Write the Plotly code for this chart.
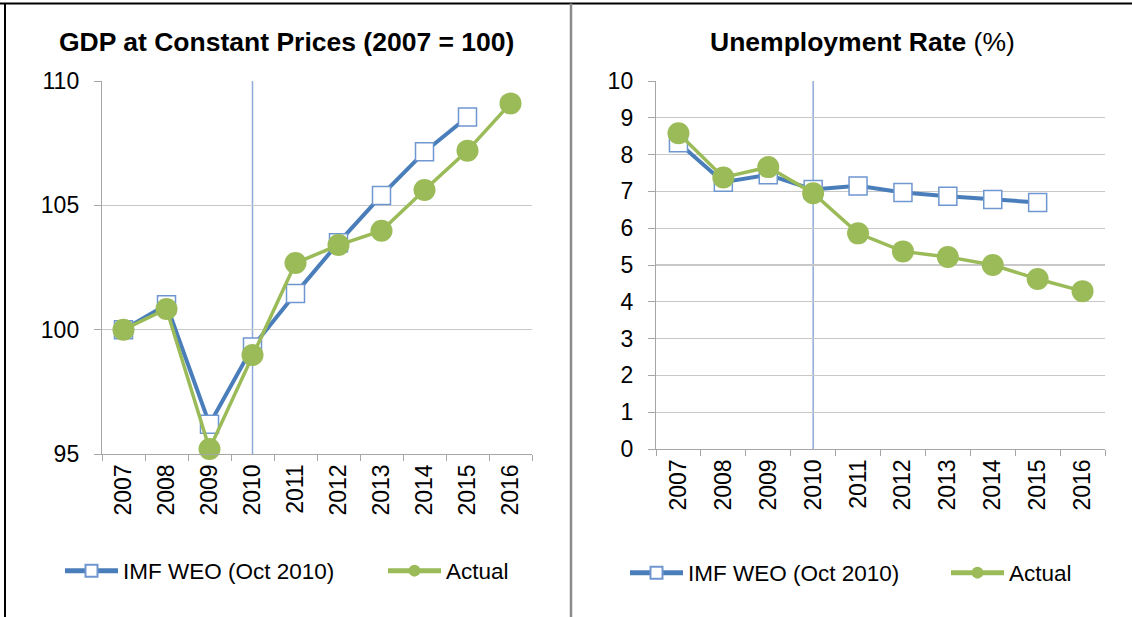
import plotly.graph_objects as go

years = ["2007", "2008", "2009", "2010", "2011", "2012", "2013", "2014", "2015", "2016"]
years_imf = years[:9]

gdp_imf = [100.0, 101.0, 96.2, 99.3, 101.45, 103.5, 105.4, 107.15, 108.55]
gdp_actual = [100.0, 100.83, 95.2, 98.98, 102.68, 103.4, 103.98, 105.62, 107.2, 109.1]

unemp_imf = [8.32, 7.25, 7.45, 7.05, 7.15, 6.97, 6.87, 6.78, 6.7]
unemp_actual = [8.58, 7.38, 7.66, 6.95, 5.86, 5.37, 5.22, 5.0, 4.62, 4.29]

gdp_ticks = [95, 100, 105, 110]
unemp_ticks = list(range(0, 11))

BLUE = "#4A7EBB"
BLUE_EDGE = "#6F97CF"
GREEN = "#9BBB59"
GRID = "#C8C8C8"
AXIS = "#A6A6A6"
FONT = "Liberation Sans, Arial, sans-serif"

W, H = 1132, 617


def px_x(v):
    return v / W


def px_y(v):
    return 1 - v / H


fig = go.Figure()

imf_style = dict(mode="lines+markers",
                 line=dict(color=BLUE, width=4),
                 marker=dict(symbol="square", size=18, color="white",
                             line=dict(color=BLUE_EDGE, width=1.5)),
                 cliponaxis=False)
act_style = dict(mode="lines+markers",
                 line=dict(color=GREEN, width=3.5),
                 marker=dict(symbol="circle", size=22, color=GREEN),
                 cliponaxis=False)

fig.add_trace(go.Scatter(x=years_imf, y=gdp_imf, name="IMF WEO (Oct 2010)",
                         xaxis="x", yaxis="y", legend="legend", **imf_style))
fig.add_trace(go.Scatter(x=years, y=gdp_actual, name="Actual",
                         xaxis="x", yaxis="y", legend="legend", **act_style))
fig.add_trace(go.Scatter(x=years_imf, y=unemp_imf, name="IMF WEO (Oct 2010)",
                         xaxis="x2", yaxis="y2", legend="legend2", **imf_style))
fig.add_trace(go.Scatter(x=years, y=unemp_actual, name="Actual",
                         xaxis="x2", yaxis="y2", legend="legend2", **act_style))

xcommon = dict(type="category", categoryorder="array", categoryarray=years,
               range=[-0.5, 9.5], showgrid=False, showline=True, linecolor=AXIS,
               linewidth=1.2, ticks="outside", tickson="boundaries", ticklen=6,
               tickcolor=AXIS, tickangle=-90,
               tickfont=dict(family=FONT, size=23, color="#000000"),
               zeroline=False, fixedrange=True, automargin=False)
ycommon = dict(showgrid=True, gridcolor=GRID, gridwidth=1.2, showline=True,
               linecolor=AXIS, linewidth=1.2, ticks="outside", ticklen=7,
               tickcolor=AXIS, tickfont=dict(family=FONT, size=23, color="#000000"),
               zeroline=False, fixedrange=True, ticklabelstandoff=10,
               automargin=False)

fig.update_layout(
    width=W, height=H,
    margin=dict(l=0, r=0, t=0, b=0, pad=0, autoexpand=False),
    paper_bgcolor="white", plot_bgcolor="white",
    font=dict(family=FONT, color="#000000"),
    xaxis=dict(domain=[px_x(102), px_x(532)], anchor="y", **xcommon),
    yaxis=dict(domain=[px_y(454), px_y(81)], anchor="x", range=[95, 110],
               tickvals=gdp_ticks, **ycommon),
    xaxis2=dict(domain=[px_x(656), px_x(1105)], anchor="y2", **xcommon),
    yaxis2=dict(domain=[px_y(449), px_y(81)], anchor="x2", range=[0, 10],
                tickvals=unemp_ticks, **ycommon),
    legend=dict(orientation="h", x=px_x(60), y=px_y(571), xanchor="left",
                yanchor="middle", font=dict(family=FONT, size=22.5),
                itemwidth=53, entrywidth=255, itemsizing="constant",
                bgcolor="rgba(0,0,0,0)"),
    legend2=dict(orientation="h", x=px_x(625), y=px_y(573), xanchor="left",
                 yanchor="middle", font=dict(family=FONT, size=22.5),
                 itemwidth=53, entrywidth=253, itemsizing="constant",
                 bgcolor="rgba(0,0,0,0)"),
    showlegend=True,
)

# titles
fig.add_annotation(text="<b>GDP at Constant Prices (2007 = 100)</b>",
                   xref="paper", yref="paper", x=px_x(286), y=px_y(42),
                   xanchor="center", yanchor="middle", showarrow=False,
                   font=dict(family=FONT, size=26.5, color="#000000"))
fig.add_annotation(text="<b>Unemployment Rate</b> (%)",
                   xref="paper", yref="paper", x=px_x(862), y=px_y(42),
                   xanchor="center", yanchor="middle", showarrow=False,
                   font=dict(family=FONT, size=26.5, color="#000000"))

# vertical marker line at 2010
fig.add_shape(type="line", xref="x", yref="y domain", x0=3, x1=3, y0=0, y1=1,
              line=dict(color="#8EAADB", width=1.5), layer="below")
fig.add_shape(type="line", xref="x2", yref="y2 domain", x0=3, x1=3, y0=0, y1=1,
              line=dict(color="#8EAADB", width=1.5), layer="below")

# outer frame and divider
fig.add_shape(type="line", xref="paper", yref="paper", x0=0, x1=1,
              y0=px_y(3.5), y1=px_y(3.5), line=dict(color="#000000", width=2))
fig.add_shape(type="line", xref="paper", yref="paper", x0=px_x(5), x1=px_x(5),
              y0=0, y1=px_y(3.5), line=dict(color="#000000", width=2))
fig.add_shape(type="line", xref="paper", yref="paper", x0=px_x(571), x1=px_x(571),
              y0=0, y1=px_y(3.5), line=dict(color="#8C8C8C", width=2.5))

fig.write_html("out.html",
               config={"displayModeBar": False, "staticPlot": True},
               post_script="document.body.style.margin='0px';document.body.style.overflow='hidden';")
